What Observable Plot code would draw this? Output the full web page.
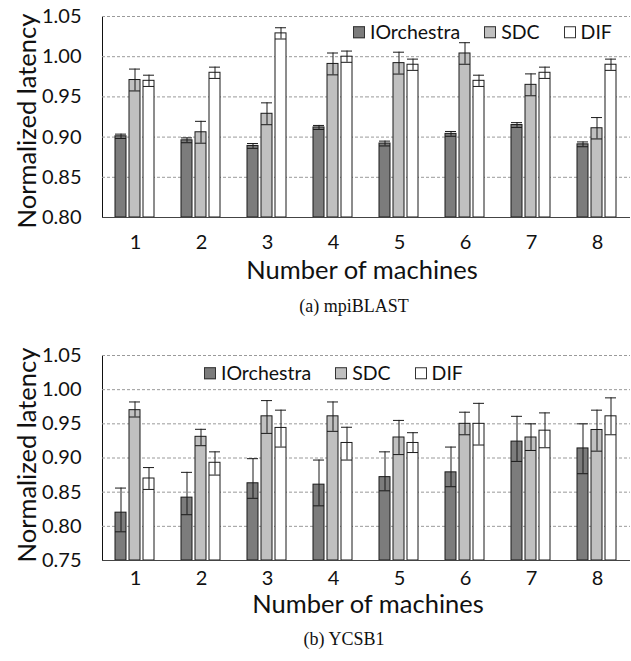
<!DOCTYPE html>
<html><head><meta charset="utf-8">
<script src="https://cdn.jsdelivr.net/npm/d3@7"></script>
<script src="https://cdn.jsdelivr.net/npm/@observablehq/plot@0.6"></script>
<style>
body{margin:0;background:#fff;}
#wrap{position:relative;width:631px;height:661px;overflow:hidden;font-family:Lato,sans-serif;color:#111;}
.panel{position:absolute;left:0;}
.ytitle{position:absolute;transform:translate(-50%,-50%) rotate(-90deg);white-space:nowrap;font-size:25.5px;line-height:1;}
.xtitle{position:absolute;transform:translate(-50%,-50%);white-space:nowrap;font-size:25.5px;line-height:1;}
.caption{position:absolute;transform:translate(-50%,-50%);white-space:nowrap;font-family:"Liberation Serif",serif;font-size:18px;line-height:1;}
.legend{position:absolute;display:flex;align-items:center;gap:24px;font-size:19.5px;transform:translateY(-50%);line-height:1;}
.item{display:flex;align-items:center;gap:5px;}
.sw{width:10px;height:10px;border:1px solid #333;}
</style></head>
<body><div id="wrap"></div>
<script>
const machines = [1, 2, 3, 4, 5, 6, 7, 8];
const series = ["IOrchestra", "SDC", "DIF"];
const seriesColors = ["#7c7c7c", "#c0c0c0", "#ffffff"];

// (a) mpiBLAST
const blastDomain = [0.80, 1.05];
const blastTicks = [0.80, 0.85, 0.90, 0.95, 1.00, 1.05];
const blastIO = [0.901, 0.896, 0.889, 0.912, 0.892, 0.904, 0.915, 0.891];
const blastIOErr = [0.0027, 0.003, 0.003, 0.0025, 0.003, 0.003, 0.003, 0.003];
const blastSDC = [0.971, 0.906, 0.929, 0.991, 0.992, 1.004, 0.965, 0.911];
const blastSDCErr = [0.0136, 0.0136, 0.0136, 0.0136, 0.0136, 0.0134, 0.0136, 0.0133];
const blastDIF = [0.970, 0.980, 1.029, 1.000, 0.990, 0.970, 0.980, 0.990];
const blastDIFErr = [0.007, 0.007, 0.007, 0.007, 0.007, 0.007, 0.007, 0.007];

// (b) YCSB1
const ycsbDomain = [0.75, 1.05];
const ycsbTicks = [0.75, 0.80, 0.85, 0.90, 0.95, 1.00, 1.05];
const ycsbIO = [0.820, 0.842, 0.863, 0.861, 0.872, 0.879, 0.924, 0.914];
const ycsbIOHi = [0.856, 0.879, 0.899, 0.897, 0.909, 0.916, 0.961, 0.950];
const ycsbIOLo = [0.792, 0.817, 0.841, 0.830, 0.852, 0.858, 0.895, 0.877];
const ycsbSDC = [0.970, 0.931, 0.961, 0.961, 0.930, 0.950, 0.930, 0.941];
const ycsbSDCHi = [0.982, 0.942, 0.984, 0.982, 0.955, 0.967, 0.950, 0.970];
const ycsbSDCLo = [0.960, 0.918, 0.936, 0.939, 0.905, 0.934, 0.911, 0.910];
const ycsbDIF = [0.870, 0.893, 0.944, 0.922, 0.922, 0.950, 0.940, 0.961];
const ycsbDIFHi = [0.886, 0.909, 0.970, 0.945, 0.937, 0.980, 0.966, 0.988];
const ycsbDIFLo = [0.854, 0.875, 0.916, 0.897, 0.908, 0.919, 0.915, 0.934];

const blastRows = [];
[[blastIO, blastIOErr], [blastSDC, blastSDCErr], [blastDIF, blastDIFErr]].forEach(([vals, errs], s) => {
  machines.forEach((m, i) => blastRows.push({machine: m, series: series[s], value: vals[i], lo: vals[i] - errs[i], hi: vals[i] + errs[i], base: blastDomain[0]}));
});
const ycsbRows = [];
[[ycsbIO, ycsbIOLo, ycsbIOHi], [ycsbSDC, ycsbSDCLo, ycsbSDCHi], [ycsbDIF, ycsbDIFLo, ycsbDIFHi]].forEach(([vals, los, his], s) => {
  machines.forEach((m, i) => ycsbRows.push({machine: m, series: series[s], value: vals[i], lo: los[i], hi: his[i], base: ycsbDomain[0]}));
});

function chart({rows, domain, ticks, height, tickPadding}) {
  const ink = "#1a1a1a";
  return Plot.plot({
    width: 631, height, marginTop: 16, marginLeft: 101, marginRight: 1, marginBottom: 40,
    style: {fontFamily: "Lato, sans-serif", fontSize: "20px", color: "#111", background: "white", overflow: "visible"},
    fx: {domain: machines, padding: 0, label: null, tickSize: 0, tickPadding, axis: "bottom"},
    x: {domain: series, paddingInner: 0.2, paddingOuter: 0.8, axis: null},
    y: {domain, ticks, tickFormat: d3.format(".2f"), tickSize: 0, tickPadding: 21, label: null, line: true},
    color: {domain: series, range: seriesColors},
    marks: [
      Plot.ruleY(ticks.slice(1), {stroke: "#9a9a9a", strokeDasharray: "3,2"}),
      Plot.barY(rows, {fx: "machine", x: "series", y1: "base", y2: "value", fill: "series", stroke: ink, strokeWidth: 1}),
      Plot.ruleX(rows, {fx: "machine", x: "series", y1: "lo", y2: "hi", stroke: ink}),
      Plot.tickY(rows, {fx: "machine", x: "series", y: "hi", stroke: ink}),
      Plot.tickY(rows, {fx: "machine", x: "series", y: "lo", stroke: ink}),
      Plot.ruleY([domain[0]], {stroke: "#444"})
    ]
  });
}

const wrap = document.getElementById("wrap");
function place(el, top) { el.classList.add("panel"); el.style.top = top + "px"; wrap.appendChild(el); }
function text(cls, str, x, y) { const d = document.createElement("div"); d.className = cls; d.textContent = str; d.style.left = x + "px"; d.style.top = y + "px"; wrap.appendChild(d); return d; }
function legend(x, y) {
  const lg = document.createElement("div"); lg.className = "legend"; lg.style.left = x + "px"; lg.style.top = y + "px";
  series.forEach((s, i) => {
    const it = document.createElement("div"); it.className = "item";
    const sw = document.createElement("div"); sw.className = "sw"; sw.style.background = seriesColors[i];
    const t = document.createElement("span"); t.textContent = s;
    it.appendChild(sw); it.appendChild(t); lg.appendChild(it);
  });
  wrap.appendChild(lg);
}

place(chart({rows: blastRows, domain: blastDomain, ticks: blastTicks, height: 257, tickPadding: 17}), 0);
place(chart({rows: ycsbRows, domain: ycsbDomain, ticks: ycsbTicks, height: 261, tickPadding: 10}), 339);

legend(353, 32);
legend(204, 373);
text("ytitle", "Normalized latency", 27, 121);
text("ytitle", "Normalized latency", 27, 455);
text("xtitle", "Number of machines", 362, 270);
text("xtitle", "Number of machines", 368, 604);
text("caption", "(a) mpiBLAST", 354, 306);
text("caption", "(b) YCSB1", 344, 639);
</script>
</body></html>
